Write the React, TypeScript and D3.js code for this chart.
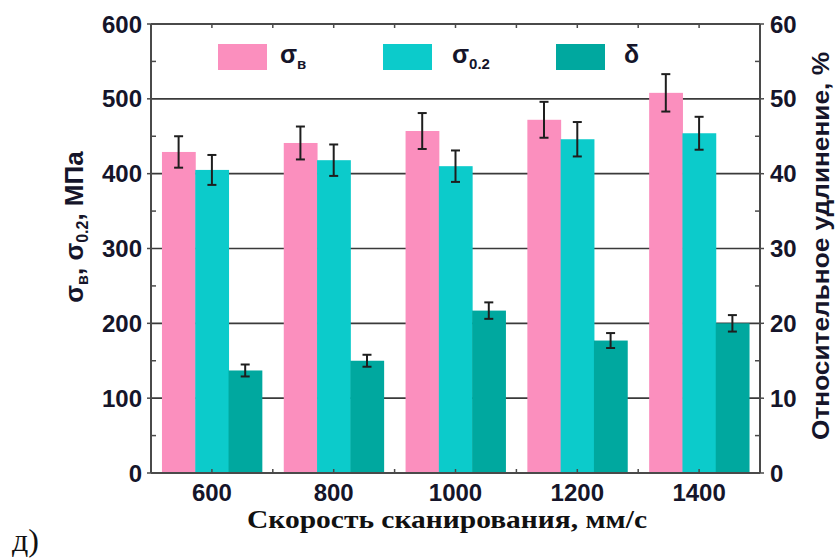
import React from "react";
import * as d3 from "d3";

const categories = ["600", "800", "1000", "1200", "1400"];
const sigmaB = [429, 441, 457, 472, 508];
const sigmaBErr = [21, 22, 24, 24, 25];
const sigma02 = [405, 418, 410, 446, 454];
const sigma02Err = [20, 21, 21, 23, 22];
const delta = [13.7, 15.0, 21.7, 17.7, 20.0];
const deltaErr = [0.8, 0.8, 1.1, 1.0, 1.1];
const leftTicks = [0, 100, 200, 300, 400, 500, 600];
const rightTicks = [0, 10, 20, 30, 40, 50, 60];
const seriesKeys = ["b", "02", "d"];
const colors: Record<string, string> = { b: "#fb8fbe", "02": "#0ccbcb", d: "#00a89f" };

export default function App() {
  const W = 837, H = 558;
  const L = 151, R = 760, T = 24, B = 473;
  const x0 = d3.scaleBand<string>().domain(categories).range([L, R]).paddingInner(0.18).paddingOuter(0.09);
  const x1 = d3.scaleBand<string>().domain(seriesKeys).range([0, x0.bandwidth()]);
  const yL = d3.scaleLinear().domain([0, 600]).range([B, T]);
  const yR = d3.scaleLinear().domain([0, 60]).range([B, T]);
  const step = x0.step();
  const bw = x0.bandwidth();
  const centers = categories.map((c) => (x0(c) as number) + bw / 2);
  const bounds = categories.slice(1).map((c) => (x0(c) as number) - (step - bw) / 2);
  const xTicks = [...centers, ...bounds];
  const minorL = d3.range(50, 600, 100);
  const minorR = d3.range(5, 60, 10);
  const font = "'Liberation Sans', Arial, sans-serif";
  const txt = "#15152a";

  const bars: { key: string; cat: string; v: number; e: number; y: (n: number) => number }[] = [];
  categories.forEach((c, i) => {
    bars.push({ key: "b", cat: c, v: sigmaB[i], e: sigmaBErr[i], y: yL });
    bars.push({ key: "02", cat: c, v: sigma02[i], e: sigma02Err[i], y: yL });
    bars.push({ key: "d", cat: c, v: delta[i], e: deltaErr[i], y: yR });
  });

  const legend = [
    { key: "b", x: 218, tx: 280, main: "σ", sub: "в" },
    { key: "02", x: 383, tx: 452, main: "σ", sub: "0.2" },
    { key: "d", x: 556, tx: 624, main: "δ", sub: "" },
  ];

  return (
    <svg width={W} height={H} style={{ position: "absolute", left: 0, top: 0, background: "#fff" }}>
      <rect x={0} y={0} width={W} height={H} fill="#fff" />
      {/* grid */}
      {leftTicks.slice(1, -1).map((t) => (
        <line key={"g" + t} x1={L} x2={R} y1={yL(t)} y2={yL(t)} stroke="#3a3a3a" strokeWidth={1.6} />
      ))}
      {/* bars */}
      {bars.map((b, i) => (
        <rect
          key={"bar" + i}
          x={(x0(b.cat) as number) + (x1(b.key) as number)}
          y={b.y(b.v)}
          width={x1.bandwidth() + 0.5}
          height={B - b.y(b.v)}
          fill={colors[b.key]}
        />
      ))}
      {/* error bars */}
      {bars.map((b, i) => {
        const cx = (x0(b.cat) as number) + (x1(b.key) as number) + x1.bandwidth() / 2;
        const y1 = b.y(b.v + b.e), y2 = b.y(b.v - b.e);
        return (
          <g key={"e" + i} stroke="#1e1e1e" strokeWidth={2}>
            <line x1={cx} x2={cx} y1={y1} y2={y2} />
            <line x1={cx - 4.5} x2={cx + 4.5} y1={y1} y2={y1} />
            <line x1={cx - 4.5} x2={cx + 4.5} y1={y2} y2={y2} />
          </g>
        );
      })}
      {/* frame */}
      <g stroke="#4a4a4a" strokeWidth={2} fill="none">
        <line x1={L} x2={L} y1={T} y2={B} />
        <line x1={R} x2={R} y1={T} y2={B} />
        <line x1={L} x2={R} y1={T} y2={T} />
        <line x1={L} x2={R} y1={B} y2={B} />
      </g>
      {/* ticks */}
      <g stroke="#4a4a4a" strokeWidth={1.5}>
        {leftTicks.map((t) => (
          <line key={"lt" + t} x1={L - 4} x2={L} y1={yL(t)} y2={yL(t)} />
        ))}
        {minorL.map((t) => (
          <line key={"lm" + t} x1={L} x2={L + 5} y1={yL(t)} y2={yL(t)} />
        ))}
        {rightTicks.map((t) => (
          <line key={"rt" + t} x1={R} x2={R + 4} y1={yR(t)} y2={yR(t)} />
        ))}
        {minorR.map((t) => (
          <line key={"rm" + t} x1={R - 5} x2={R} y1={yR(t)} y2={yR(t)} />
        ))}
        {xTicks.map((x, i) => (
          <g key={"xt" + i}>
            <line x1={x} x2={x} y1={B} y2={B - 4} />
            <line x1={x} x2={x} y1={T} y2={T + 4} />
          </g>
        ))}
      </g>
      {/* tick labels */}
      <g fontFamily={font} fontWeight="bold" fontSize={24} fill={txt}>
        {leftTicks.map((t) => (
          <text key={"ll" + t} x={L - 9} y={yL(t)} dy="0.36em" textAnchor="end">{t}</text>
        ))}
        {rightTicks.map((t) => (
          <text key={"rl" + t} x={R + 10} y={yR(t)} dy="0.36em" textAnchor="start">{t}</text>
        ))}
        {categories.map((c, i) => (
          <text key={"xl" + c} x={centers[i]} y={501} textAnchor="middle">{c}</text>
        ))}
      </g>
      {/* left title */}
      <text transform="translate(83,227) rotate(-90)" textAnchor="middle" fontFamily={font} fontWeight="bold" fontSize={26} fill={txt}>
        σ<tspan fontSize={16} dy={5}>в</tspan><tspan dy={-5}>, σ</tspan><tspan fontSize={16} dy={5}>0.2</tspan><tspan dy={-5}>, МПа</tspan>
      </text>
      {/* right title */}
      <text transform="translate(829,246) rotate(-90)" textAnchor="middle" fontFamily={font} fontWeight="bold" fontSize={24} fill={txt} textLength={388} lengthAdjust="spacingAndGlyphs">
        Относительное удлинение, %
      </text>
      {/* bottom title */}
      <text x={447} y={528} textAnchor="middle" fontFamily="'Liberation Serif', 'Times New Roman', serif" fontWeight="bold" fontSize={25} fill="#111" textLength={400} lengthAdjust="spacingAndGlyphs">
        Скорость сканирования, мм/с
      </text>
      <text x={12} y={551} fontFamily="'Liberation Serif', 'Times New Roman', serif" fontSize={32} fill="#111">д)</text>
      {/* legend */}
      {legend.map((l) => (
        <g key={"lg" + l.key}>
          <rect x={l.x} y={44} width={49} height={26} fill={colors[l.key]} />
          <text x={l.tx} y={63} fontFamily={font} fontWeight="bold" fontSize={25} fill={txt}>
            {l.main}
            {l.sub && <tspan fontSize={15} dy={6}>{l.sub}</tspan>}
          </text>
        </g>
      ))}
    </svg>
  );
}
